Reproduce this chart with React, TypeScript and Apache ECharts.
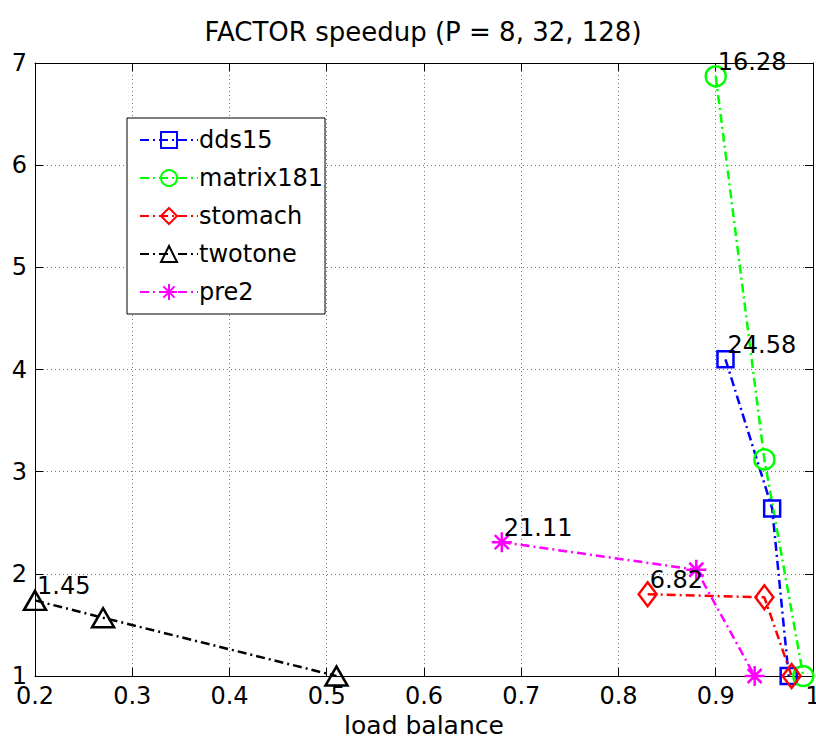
import React, { useEffect, useRef } from "react";
import * as echarts from "echarts";

const seriesNames = ["dds15", "matrix181", "stomach", "twotone", "pre2"];
const seriesColors = ["#0000ff", "#00ff00", "#ff0000", "#000000", "#ff00ff"];
const dds15X = [0.91, 0.958, 0.975];
const dds15Y = [4.1, 2.64, 1.0];
const matrix181X = [0.9, 0.95, 0.99];
const matrix181Y = [6.87, 3.12, 1.0];
const stomachX = [0.83, 0.95, 0.978];
const stomachY = [1.8, 1.77, 1.0];
const twotoneX = [0.2, 0.27, 0.51];
const twotoneY = [1.74, 1.57, 1.0];
const pre2X = [0.68, 0.88, 0.94];
const pre2Y = [2.31, 2.04, 1.0];
const firstPointLabels = ["24.58", "16.28", "6.82", "1.45", "21.11"];
const xTicks = [0.2, 0.3, 0.4, 0.5, 0.6, 0.7, 0.8, 0.9, 1];
const yTicks = [1, 2, 3, 4, 5, 6, 7];

const FONT = "DejaVu Sans";
const asterisk = "path://M10,0L10,20M0,10L20,10M3,3L17,17M3,17L17,3";
const symbols = ["rect", "circle", "diamond", "triangle", asterisk];
const symbolSizes: any[] = [16, 20, [18, 24], [22, 19], 20];

export default function App() {
  const ref = useRef<HTMLDivElement>(null);
  useEffect(() => {
    if (!ref.current) return;
    const chart = echarts.init(ref.current, null, { renderer: "svg" });
    const xs = [dds15X, matrix181X, stomachX, twotoneX, pre2X];
    const ys = [dds15Y, matrix181Y, stomachY, twotoneY, pre2Y];
    const series = seriesNames.map((name, i) => ({
      name,
      type: "line",
      xAxisIndex: 0,
      yAxisIndex: 0,
      clip: false,
      symbol: symbols[i],
      symbolSize: symbolSizes[i],
      showAllSymbol: true,
      lineStyle: { color: seriesColors[i], width: 2.5, type: [9, 4, 2, 4] },
      itemStyle: { color: "rgba(0,0,0,0)", borderColor: seriesColors[i], borderWidth: 2.5 },
      emphasis: { disabled: true },
      data: xs[i].map((x, j) =>
        j === 0
          ? {
              value: [x, ys[i][j]],
              label: {
                show: true,
                formatter: firstPointLabels[i],
                position: "inside",
                align: "left",
                verticalAlign: "middle",
                offset: [2, -14],
                color: "#000",
                fontFamily: FONT,
                fontSize: 24,
              },
            }
          : { value: [x, ys[i][j]] }
      ),
    }));
    const axisLine = { show: true, lineStyle: { color: "#000", width: 1 } };
    const tick = { show: true, inside: true, length: 8, lineStyle: { color: "#000" } };
    chart.setOption({
      animation: false,
      backgroundColor: "#fff",
      grid: { left: 35, right: 3, top: 63, bottom: 66, show: false, outerBoundsMode: "none", containLabel: false },
      graphic: [
        {
          type: "text",
          x: 423,
          y: 32,
          style: {
            text: "FACTOR speedup (P = 8, 32, 128)",
            align: "center",
            verticalAlign: "middle",
            font: `26px "${FONT}"`,
            fill: "#000",
          },
        },
      ],
      legend: {
        orient: "vertical",
        left: 127,
        top: 118,
        data: seriesNames,
        itemWidth: 58,
        itemHeight: 20,
        itemGap: 14,
        padding: [10, 2, 10, 12],
        borderColor: "#000",
        borderWidth: 1,
        backgroundColor: "#fff",
        textStyle: { fontFamily: FONT, fontSize: 24, lineHeight: 24, color: "#000", padding: [0, 0, 0, -4] },
        selectedMode: false,
      },
      xAxis: [
        {
          type: "value",
          min: xTicks[0],
          max: xTicks[xTicks.length - 1],
          interval: 0.1,
          name: "load balance",
          nameLocation: "middle",
          nameGap: 37,
          nameTextStyle: { fontFamily: FONT, fontSize: 25, color: "#000" },
          axisLine,
          axisTick: tick,
          axisLabel: {
            fontFamily: FONT,
            fontSize: 24,
            color: "#000",
            margin: 8,
            formatter: (v: number) => String(Math.round(v * 10) / 10),
          },
          splitLine: { show: true, lineStyle: { color: "#777", type: [1, 3], width: 1 } },
        },
        {
          type: "value",
          position: "top",
          min: xTicks[0],
          max: xTicks[xTicks.length - 1],
          interval: 0.1,
          axisLine,
          axisTick: tick,
          axisLabel: { show: false },
          splitLine: { show: false },
        },
      ],
      yAxis: [
        {
          type: "value",
          min: yTicks[0],
          max: yTicks[yTicks.length - 1],
          interval: 1,
          axisLine,
          axisTick: tick,
          axisLabel: { fontFamily: FONT, fontSize: 24, color: "#000", margin: 8 },
          splitLine: { show: true, lineStyle: { color: "#777", type: [1, 3], width: 1 } },
        },
        {
          type: "value",
          position: "right",
          min: yTicks[0],
          max: yTicks[yTicks.length - 1],
          interval: 1,
          axisLine,
          axisTick: tick,
          axisLabel: { show: false },
          splitLine: { show: false },
        },
      ],
      series,
    });
    return () => chart.dispose();
  }, []);
  return (
    <div
      ref={ref}
      style={{ position: "fixed", left: 0, top: 0, width: 816, height: 742, background: "#fff" }}
    />
  );
}
